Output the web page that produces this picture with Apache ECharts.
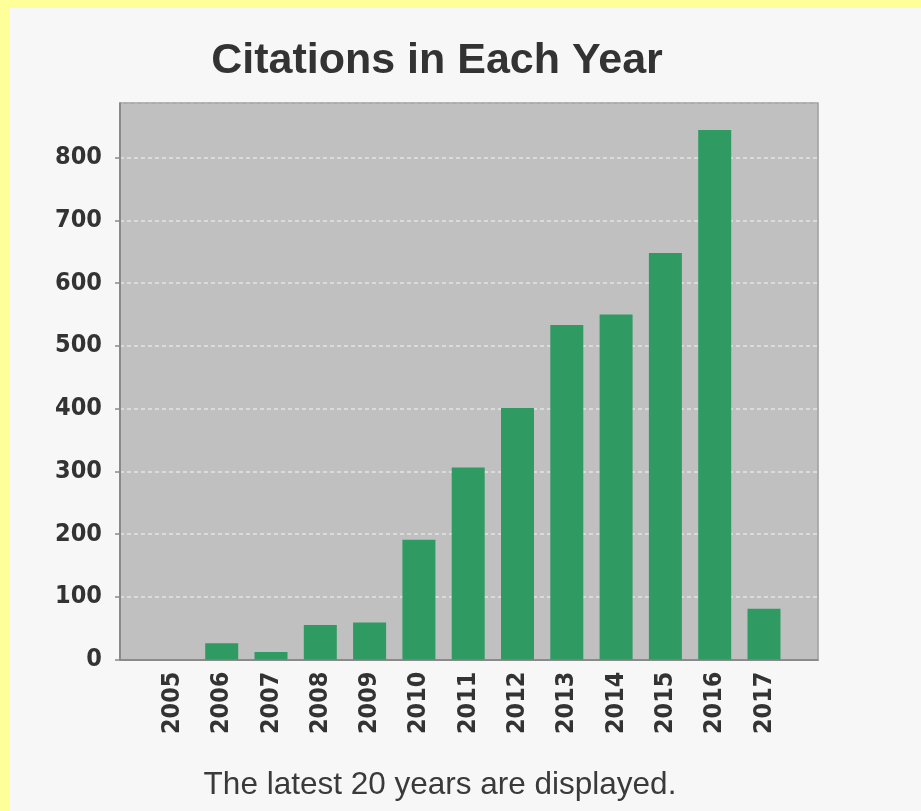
<!DOCTYPE html>
<html>
<head>
<meta charset="utf-8">
<script src="https://cdn.jsdelivr.net/npm/echarts@6/dist/echarts.min.js"></script>
<style>
html,body{margin:0;padding:0;background:#f7f7f7;}
#chart{width:921px;height:811px;}
</style>
</head>
<body>
<div id="chart"></div>
<script>
// ---- data ----
var years = ['2005','2006','2007','2008','2009','2010','2011','2012','2013','2014','2015','2016','2017'];
var citations = [0, 26, 12, 55, 59, 191, 306, 401, 533, 550, 648, 844, 81];
var yTicks = [0, 100, 200, 300, 400, 500, 600, 700, 800];
var titleText = 'Citations in Each Year';
var footerText = 'The latest 20 years are displayed.';

var yMax = 887;
var labelFont = {
  fontFamily: "'DejaVu Sans Condensed', 'DejaVu Sans', sans-serif",
  fontWeight: 'bold',
  fontSize: 25,
  color: '#333333'
};

var chart = echarts.init(document.getElementById('chart'), null, {renderer: 'canvas'});
chart.setOption({
  backgroundColor: '#f7f7f7',
  animation: false,
  graphic: [
    {type: 'rect', shape: {x: 0, y: 0, width: 921, height: 8}, style: {fill: '#ffff99'}, silent: true},
    {type: 'rect', shape: {x: 0, y: 0, width: 10, height: 811}, style: {fill: '#ffff99'}, silent: true},
    {type: 'polyline', z: 100, shape: {points: [[121, 103], [818, 103], [818, 659]]},
      style: {fill: 'none', stroke: '#a6a6a6', lineWidth: 1.5}, silent: true},
    {type: 'text', x: 437, y: 61, style: {text: titleText, textAlign: 'center', textVerticalAlign: 'middle',
      font: "bold 43px 'Liberation Sans', Arial, sans-serif", fill: '#333333'}},
    {type: 'text', x: 440, y: 785, style: {text: footerText, textAlign: 'center', textVerticalAlign: 'middle',
      font: "31.5px 'Liberation Sans', Arial, sans-serif", fill: '#3a3a3a'}}
  ],
  grid: [
    {left: 120, right: 103, top: 103, bottom: 151.5, show: true, backgroundColor: '#c0c0c0', borderColor: '#a6a6a6', borderWidth: 1},
    {left: 147.75, right: 132.35, top: 103, bottom: 151.5}
  ],
  xAxis: [
    {gridIndex: 0, type: 'value', min: 0, max: 1, axisLine: {show: true, onZero: false, lineStyle: {color: '#8a8a8a', width: 2}},
      axisTick: {show: false}, axisLabel: {show: false}, splitLine: {show: false}},
    {gridIndex: 1, type: 'category', data: years, boundaryGap: true,
      axisLine: {show: false}, axisTick: {show: false},
      axisLabel: Object.assign({rotate: 90, margin: 12, interval: 0}, labelFont)}
  ],
  yAxis: [
    {gridIndex: 0, type: 'value', min: 0, max: yMax, interval: 100,
      axisLine: {show: true, lineStyle: {color: '#8a8a8a', width: 2}},
      axisTick: {show: true, length: 5, lineStyle: {color: '#8a8a8a', width: 1.5}},
      axisLabel: Object.assign({margin: 18, showMaxLabel: false, formatter: function (v) {
        return yTicks.indexOf(v) >= 0 ? String(v) : '';
      }}, labelFont),
      splitLine: {show: true, lineStyle: {color: '#e4e4e4', width: 1.5, type: [4, 3]}}},
    {gridIndex: 1, type: 'value', min: 0, max: yMax, show: false, splitLine: {show: false}}
  ],
  series: [
    {type: 'bar', xAxisIndex: 1, yAxisIndex: 1, data: citations, barWidth: 33,
      itemStyle: {color: '#2f9b63'}}
  ]
});
</script>
</body>
</html>
